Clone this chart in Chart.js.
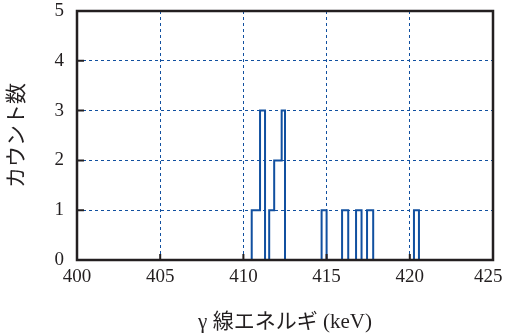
<!DOCTYPE html>
<html lang="ja">

<head>
  <meta charset="UTF-8">
  <title>γ線エネルギ スペクトル</title>
  <script src="https://cdn.jsdelivr.net/npm/chart.js"></script>
  <style>
    html, body { margin: 0; padding: 0; background: #fff; }
    #wrap { width: 505px; height: 333px; }
  </style>
</head>

<body>
  <div id="wrap"><canvas id="spectrum"></canvas></div>

  <script>
    // bin edges (keV) and the count that holds from each edge to the next one
    const binEdges = [400, 410.5, 411.0, 411.3, 411.55, 411.85, 412.3, 412.5, 414.7, 415.0,
      415.93, 416.3, 416.77, 417.1, 417.43, 417.8, 420.25, 420.55, 425];
    const counts = [0, 1, 3, 0, 1, 2, 3, 0, 1, 0, 1, 0, 1, 0, 1, 0, 1, 0, 0];

    const xTicks = [400, 405, 410, 415, 420, 425];
    const yTicks = [0, 1, 2, 3, 4, 5];

    const xTitle = 'γ 線エネルギ (keV)';
    const yTitle = 'カウント数';

    const ink = '#231f20';
    const blue = '#1150a0';
    const font = "'Liberation Serif', 'Noto Sans CJK JP', serif";

    // gnuplot style box with inner ticks on left and bottom
    const framePlugin = {
      id: 'frame',
      afterDatasetsDraw(chart) {
        const { ctx, chartArea: a, scales } = chart;
        ctx.save();
        ctx.strokeStyle = ink;
        ctx.lineWidth = 2;
        ctx.beginPath();
        xTicks.forEach(v => {
          const px = scales.x.getPixelForValue(v);
          ctx.moveTo(px, a.bottom);
          ctx.lineTo(px, a.bottom - 6);
        });
        yTicks.forEach(v => {
          const py = scales.y.getPixelForValue(v);
          ctx.moveTo(a.left, py);
          ctx.lineTo(a.left + 7, py);
        });
        ctx.stroke();
        ctx.lineWidth = 2.5;
        ctx.strokeRect(a.left, a.top, a.right - a.left, a.bottom - a.top);
        ctx.restore();
      }
    };

    const ctx = document.getElementById('spectrum').getContext('2d');
    new Chart(ctx, {
      type: 'line',
      data: {
        datasets: [{
          data: binEdges.map((e, i) => ({ x: e, y: counts[i] })),
          stepped: true,
          borderColor: blue,
          borderWidth: 2,
          pointRadius: 0,
          fill: false
        }]
      },
      options: {
        responsive: true,
        maintainAspectRatio: false,
        animation: false,
        layout: { padding: { top: 11, right: 12, left: 0, bottom: 0 } },
        plugins: { legend: { display: false }, tooltip: { enabled: false } },
        scales: {
          x: {
            type: 'linear',
            min: 400,
            max: 425,
            afterBuildTicks: s => { s.ticks = xTicks.map(v => ({ value: v })); },
            afterFit: s => { s.height = 73; s.paddingLeft = 0; s.paddingRight = 0; },
            ticks: {
              color: ink,
              padding: 6,
              maxRotation: 0,
              font: { family: font, size: 19 },
              // last label sits a little left of the frame corner, as in the original
              callback: v => v === 425 ? v + '\u2002' : String(v)
            },
            grid: {
              color: c => (c.tick.value === 400 || c.tick.value === 425) ? 'rgba(0,0,0,0)' : blue,
              lineWidth: 1,
              drawTicks: false
            },
            border: { display: false, dash: [3, 3] },
            title: {
              display: true,
              text: xTitle,
              color: ink,
              padding: { top: 0, bottom: -2 },
              font: { family: font, size: 21 }
            }
          },
          y: {
            min: 0,
            max: 5,
            afterBuildTicks: s => { s.ticks = yTicks.map(v => ({ value: v })); },
            afterFit: s => { s.width = 77; s.paddingTop = 0; s.paddingBottom = 0; },
            ticks: { color: ink, padding: 13, font: { family: font, size: 19 } },
            grid: {
              color: c => (c.tick.value === 0 || c.tick.value === 5) ? 'rgba(0,0,0,0)' : blue,
              lineWidth: 1,
              drawTicks: false
            },
            border: { display: false, dash: [3, 3] },
            title: {
              display: true,
              text: yTitle,
              color: ink,
              padding: { top: 5, bottom: 0 },
              font: { family: font, size: 21 }
            }
          }
        }
      },
      plugins: [framePlugin]
    });
  </script>
</body>

</html>
